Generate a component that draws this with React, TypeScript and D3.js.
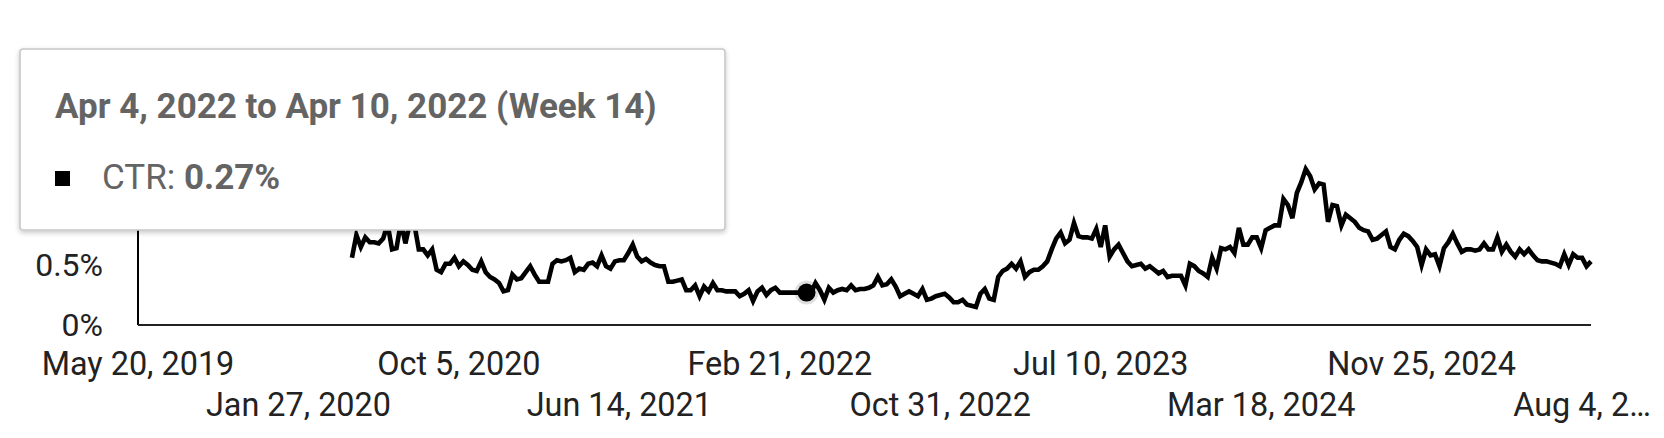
import React from "react";
import * as d3 from "d3";

// Weekly CTR (%) – first value is the week of Apr 20, 2020 (week index 48 from May 20, 2019)
const START_UTC = Date.UTC(2019, 4, 20);
const FIRST_WEEK = 48;
const ctrValues = [
  0.56, 0.75, 0.65, 0.73, 0.69, 0.69, 0.68, 0.72, 0.84, 0.63,
  0.64, 0.86, 0.68, 0.85, 0.84, 0.63, 0.63, 0.58, 0.63, 0.46,
  0.44, 0.51, 0.51, 0.56, 0.49, 0.53, 0.50, 0.46, 0.45, 0.53,
  0.44, 0.40, 0.38, 0.35, 0.28, 0.29, 0.42, 0.38, 0.39, 0.44,
  0.49, 0.42, 0.36, 0.36, 0.36, 0.51, 0.54, 0.53, 0.54, 0.56,
  0.44, 0.47, 0.46, 0.51, 0.52, 0.49, 0.58, 0.49, 0.47, 0.53,
  0.54, 0.54, 0.60, 0.67, 0.57, 0.53, 0.55, 0.52, 0.50, 0.49,
  0.49, 0.36, 0.36, 0.37, 0.38, 0.29, 0.29, 0.33, 0.24, 0.32,
  0.28, 0.35, 0.29, 0.29, 0.28, 0.28, 0.28, 0.24, 0.26, 0.29,
  0.20, 0.28, 0.31, 0.25, 0.29, 0.31, 0.27, 0.27, 0.27, 0.27,
  0.27, 0.27, 0.27, 0.27, 0.35, 0.29, 0.21, 0.31, 0.27, 0.29,
  0.30, 0.29, 0.33, 0.29, 0.30, 0.30, 0.31, 0.33, 0.40, 0.33,
  0.34, 0.38, 0.32, 0.24, 0.26, 0.28, 0.26, 0.24, 0.30, 0.21,
  0.22, 0.24, 0.25, 0.26, 0.23, 0.19, 0.19, 0.21, 0.17, 0.16,
  0.15, 0.26, 0.30, 0.22, 0.21, 0.40, 0.45, 0.47, 0.51, 0.47,
  0.53, 0.40, 0.44, 0.46, 0.46, 0.49, 0.53, 0.63, 0.72, 0.77,
  0.68, 0.71, 0.85, 0.74, 0.73, 0.73, 0.72, 0.80, 0.65, 0.83,
  0.57, 0.63, 0.67, 0.60, 0.53, 0.49, 0.50, 0.51, 0.47, 0.49,
  0.46, 0.43, 0.45, 0.40, 0.41, 0.41, 0.41, 0.33, 0.51, 0.49,
  0.45, 0.43, 0.40, 0.56, 0.47, 0.64, 0.63, 0.65, 0.60, 0.81,
  0.67, 0.67, 0.73, 0.73, 0.64, 0.79, 0.81, 0.83, 0.83, 1.05,
  1.00, 0.89, 1.10, 1.19, 1.30, 1.24, 1.13, 1.18, 1.17, 0.86,
  1.00, 0.99, 0.83, 0.92, 0.89, 0.86, 0.81, 0.79, 0.78, 0.71,
  0.72, 0.75, 0.78, 0.65, 0.63, 0.71, 0.76, 0.74, 0.70, 0.65,
  0.50, 0.63, 0.58, 0.59, 0.49, 0.64, 0.69, 0.76, 0.68, 0.61,
  0.63, 0.63, 0.62, 0.63, 0.68, 0.63, 0.63, 0.73, 0.61, 0.67,
  0.61, 0.57, 0.63, 0.59, 0.63, 0.58, 0.54, 0.53, 0.53, 0.52,
  0.51, 0.49, 0.59, 0.50, 0.59, 0.56, 0.56, 0.49, 0.53,
];

const LAST_WEEK = 326;
const xTickWeeks = [0, 36, 72, 108, 144, 180, 216, 252, 288, 324];
const xTickLabels = [
  "May 20, 2019",
  "Jan 27, 2020",
  "Oct 5, 2020",
  "Jun 14, 2021",
  "Feb 21, 2022",
  "Oct 31, 2022",
  "Jul 10, 2023",
  "Mar 18, 2024",
  "Nov 25, 2024",
  "Aug 4, 2…",
];
const yTicks = [0, 0.5, 1, 1.5];
const yTickLabels = ["0%", "0.5%", "1%", "1.5%"];

const hoverWeek = 150;
const hoverValue = 0.27;
const tooltipTitle = "Apr 4, 2022 to Apr 10, 2022 (Week 14)";
const seriesName = "CTR";

const WEEK_MS = 7 * 24 * 3600 * 1000;
const weekDate = (w: number) => new Date(START_UTC + w * WEEK_MS);

export default function App() {
  const W = 1664;
  const H = 438;
  const x = d3
    .scaleUtc()
    .domain([weekDate(0), weekDate(LAST_WEEK)])
    .range([138, 1591]);
  const y = d3.scaleLinear().domain([0, 1.5]).range([325, 145]);

  const pts: [Date, number][] = ctrValues.map((v, i) => [weekDate(FIRST_WEEK + i), v]);
  const line = d3
    .line<[Date, number]>()
    .x((d) => x(d[0]))
    .y((d) => y(d[1]));

  const font = "Roboto, 'Noto Sans', sans-serif";
  const hx = x(weekDate(hoverWeek));
  const hy = y(hoverValue);

  return (
    <svg
      width={W}
      height={H}
      style={{ position: "absolute", left: 0, top: 0, display: "block", background: "#fff" }}
      fontFamily={font}
    >
      <defs>
        <filter id="tipShadow" x="-5%" y="-10%" width="110%" height="130%">
          <feDropShadow dx="0" dy="2" stdDeviation="2.5" floodColor="#000" floodOpacity="0.22" />
        </filter>
      </defs>

      {/* y axis labels */}
      {yTicks.map((t, i) => (
        <text key={"y" + i} x={103} y={y(t) + 11} textAnchor="end" fontSize={32} fill="#222">
          {yTickLabels[i]}
        </text>
      ))}

      {/* x axis labels */}
      {xTickWeeks.map((w, i) => (
        <text
          key={"x" + i}
          x={x(weekDate(w))}
          y={i % 2 === 0 ? 375 : 416}
          textAnchor="middle"
          fontSize={32.4}
          fill="#222"
        >
          {xTickLabels[i]}
        </text>
      ))}

      {/* data line */}
      <path d={line(pts) || ""} fill="none" stroke="#000" strokeWidth={4.6} strokeLinejoin="miter" />

      {/* axes */}
      <line x1={x.range()[0]} x2={x.range()[0]} y1={y(0)} y2={y(1.5)} stroke="#000" strokeWidth={2} />
      <line x1={x.range()[0]} x2={x.range()[1]} y1={y(0)} y2={y(0)} stroke="#222" strokeWidth={2.2} />

      {/* hovered point */}
      <circle cx={hx} cy={hy} r={12} fill="rgba(0,0,0,0.12)" />
      <circle cx={hx} cy={hy} r={9} fill="#000" />

      {/* tooltip */}
      <g>
        <rect x={20} y={49} width={705} height={181} rx={3} fill="#fff" stroke="#c8c8c8" strokeWidth={1.6} filter="url(#tipShadow)" />
        <text x={55} y={118} fontSize={35} fontWeight="bold" fill="#646464">
          {tooltipTitle}
        </text>
        <rect x={55} y={171} width={15} height={15} fill="#000" />
        <text x={102} y={189} fontSize={35} fill="#646464">
          {seriesName + ": "}
          <tspan fontWeight="bold">{hoverValue.toFixed(2) + "%"}</tspan>
        </text>
      </g>
    </svg>
  );
}
